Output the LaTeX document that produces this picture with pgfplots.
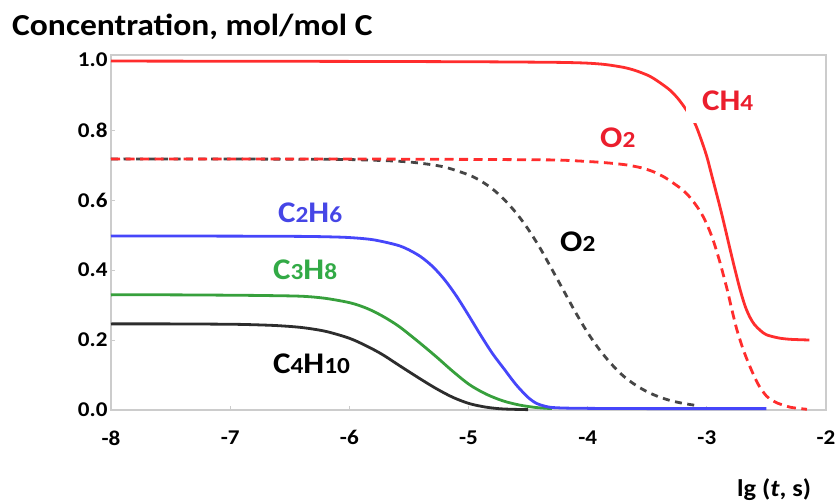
\documentclass[border=0pt]{standalone}
\usepackage{pgfplots}
\pgfplotsset{compat=1.18}
\usepackage{fontspec}
\setmainfont{Carlito}[FakeStretch=1.1]
\definecolor{cred}{RGB}{255,45,45}
\definecolor{credtxt}{RGB}{235,30,45}
\definecolor{cblue}{RGB}{70,70,250}
\definecolor{cbluetxt}{RGB}{70,70,230}
\definecolor{cgreen}{RGB}{55,160,60}
\definecolor{cgreentxt}{RGB}{50,170,70}
\definecolor{cblk}{RGB}{45,45,45}
\definecolor{cdash}{RGB}{70,70,70}
\newcommand{\sub}[1]{{\fontsize{23bp}{23bp}\selectfont #1}}
\begin{document}
\begin{tikzpicture}
\useasboundingbox (-111bp,-93bp) rectangle (725bp,410bp);
\begin{axis}[
  scale only axis, width=715bp, height=355bp,
  xmin=-8, xmax=-2, ymin=0, ymax=1.0143,
  xtick={-8,-7,-6,-5,-4,-3,-2}, xticklabels={-8,-7,-6,-5,-4,-3,-2},
  ytick={0,0.2,0.4,0.6,0.8,1}, yticklabels={0.0,0.2,0.4,0.6,0.8,1.0},
  axis line style={draw=black!20, line width=2.2bp},
  tick style={draw=black!20, line width=1bp},
  major tick length=4bp,
  tick align=inside,
  xtick pos=lower, ytick pos=left,
  tick label style={font=\fontsize{21bp}{21bp}\selectfont\bfseries},
  xticklabel style={yshift=-17bp},
  clip=false,
]
% O2 (black dashed)
\addplot[cdash, line width=2.8bp, dash pattern=on 7bp off 5.5bp, smooth] coordinates {
(-8,0.717) (-7,0.717) (-6.4,0.7165) (-6,0.7156) (-5.6,0.711) (-5.4,0.705) (-5.2,0.694) (-5,0.672) (-4.9,0.655) (-4.8,0.632) (-4.7,0.601) (-4.6,0.563) (-4.5,0.517) (-4.4,0.463) (-4.3,0.402) (-4.2,0.340) (-4.1,0.278) (-4,0.221) (-3.9,0.172) (-3.8,0.131) (-3.7,0.097) (-3.6,0.0717) (-3.5,0.052) (-3.4,0.0373) (-3.3,0.0265) (-3.2,0.019) (-3.1,0.0135)
};
% O2 (red dashed)
\addplot[cred, line width=2.8bp, dash pattern=on 9bp off 5.5bp, smooth] coordinates {
(-8,0.717) (-6,0.717) (-5,0.716) (-4.5,0.715) (-4.23,0.714) (-3.95,0.709) (-3.8,0.705) (-3.67,0.70) (-3.55,0.692) (-3.45,0.681) (-3.36,0.666) (-3.28,0.648) (-3.2,0.628) (-3.14,0.607) (-3.08,0.58) (-3.03,0.552) (-2.98,0.515) (-2.94,0.478) (-2.89,0.422) (-2.83,0.345) (-2.79,0.287) (-2.75,0.232) (-2.7,0.178) (-2.66,0.142) (-2.61,0.102) (-2.56,0.068) (-2.5,0.04) (-2.45,0.027) (-2.41,0.02) (-2.3,0.008) (-2.16,0.002)
};
% CH4
\addplot[cred, line width=2.8bp, smooth] coordinates {
(-8,0.997) (-6,0.996) (-5,0.995) (-4.5,0.994) (-4.2,0.993) (-4,0.991) (-3.85,0.987) (-3.7,0.979) (-3.6,0.97) (-3.5,0.957) (-3.45,0.948) (-3.38,0.932) (-3.31,0.914) (-3.25,0.893) (-3.2,0.871) (-3.15,0.846) (-3.1,0.819) (-3.05,0.775) (-3,0.724) (-2.96,0.672) (-2.92,0.62) (-2.88,0.567) (-2.84,0.51) (-2.8,0.452) (-2.76,0.396) (-2.72,0.343) (-2.68,0.298) (-2.64,0.266) (-2.6,0.244) (-2.55,0.227) (-2.5,0.215) (-2.4,0.206) (-2.3,0.202) (-2.14,0.2)
};
% C4H10
\addplot[cblk, line width=2.8bp, smooth] coordinates {
(-8,0.246) (-7.5,0.246) (-7,0.245) (-6.8,0.2436) (-6.6,0.241) (-6.4,0.2357) (-6.2,0.2248) (-6,0.205) (-5.85,0.182) (-5.72,0.158) (-5.58,0.127) (-5.41,0.09) (-5.27,0.061) (-5.13,0.036) (-4.99,0.018) (-4.85,0.008) (-4.71,0.003) (-4.5,0.001)
};
% C3H8
\addplot[cgreen, line width=2.8bp, smooth] coordinates {
(-8,0.329) (-7.5,0.329) (-7,0.328) (-6.7,0.327) (-6.4,0.325) (-6.2,0.319) (-5.99,0.306) (-5.85,0.29) (-5.72,0.268) (-5.58,0.238) (-5.41,0.192) (-5.27,0.152) (-5.13,0.11) (-4.99,0.072) (-4.85,0.045) (-4.71,0.026) (-4.57,0.014) (-4.43,0.007) (-4.3,0.004)
};
% C2H6
\addplot[cblue, line width=2.8bp, smooth] coordinates {
(-8,0.497) (-7.5,0.497) (-7,0.4968) (-6.7,0.4965) (-6.4,0.496) (-6.2,0.495) (-6,0.4927) (-5.8,0.4864) (-5.6,0.4713) (-5.5,0.4575) (-5.4,0.4378) (-5.3,0.4097) (-5.2,0.372) (-5.1,0.325) (-5,0.271) (-4.9,0.215) (-4.8,0.162) (-4.7,0.1167) (-4.6,0.072) (-4.5,0.036) (-4.43,0.019) (-4.36,0.011) (-4.29,0.007) (-4.1,0.005) (-3.5,0.004) (-2.5,0.004)
};
\end{axis}
\node[anchor=base west, inner sep=0pt, font=\fontsize{30.5bp}{30.5bp}\selectfont\bfseries] at (-99bp,374bp) {Concentration, mol/mol C};
\node[anchor=base west, inner sep=0pt, font=\fontsize{24bp}{24bp}\selectfont\bfseries] at (626bp,-86bp) {lg (\textit{t}, s)};
\node[anchor=base west, fill=white, inner xsep=16bp, inner ysep=12bp, text=credtxt, font=\fontsize{30bp}{30bp}\selectfont\bfseries] at (575bp,299bp) {CH\sub{4}};
\node[anchor=base west, inner sep=0pt, text=credtxt, font=\fontsize{30bp}{30bp}\selectfont\bfseries] at (489bp,262bp) {O\sub{2}};
\node[anchor=base west, inner sep=0pt, text=black, font=\fontsize{30bp}{30bp}\selectfont\bfseries] at (449bp,158bp) {O\sub{2}};
\node[anchor=base west, inner sep=0pt, text=cbluetxt, font=\fontsize{30bp}{30bp}\selectfont\bfseries] at (167bp,187bp) {C\sub{2}H\sub{6}};
\node[anchor=base west, inner sep=0pt, text=cgreentxt, font=\fontsize{30bp}{30bp}\selectfont\bfseries] at (162bp,130bp) {C\sub{3}H\sub{8}};
\node[anchor=base west, inner sep=0pt, text=black, font=\fontsize{30bp}{30bp}\selectfont\bfseries] at (162bp,37bp) {C\sub{4}H\sub{10}};
\end{tikzpicture}
\end{document}
